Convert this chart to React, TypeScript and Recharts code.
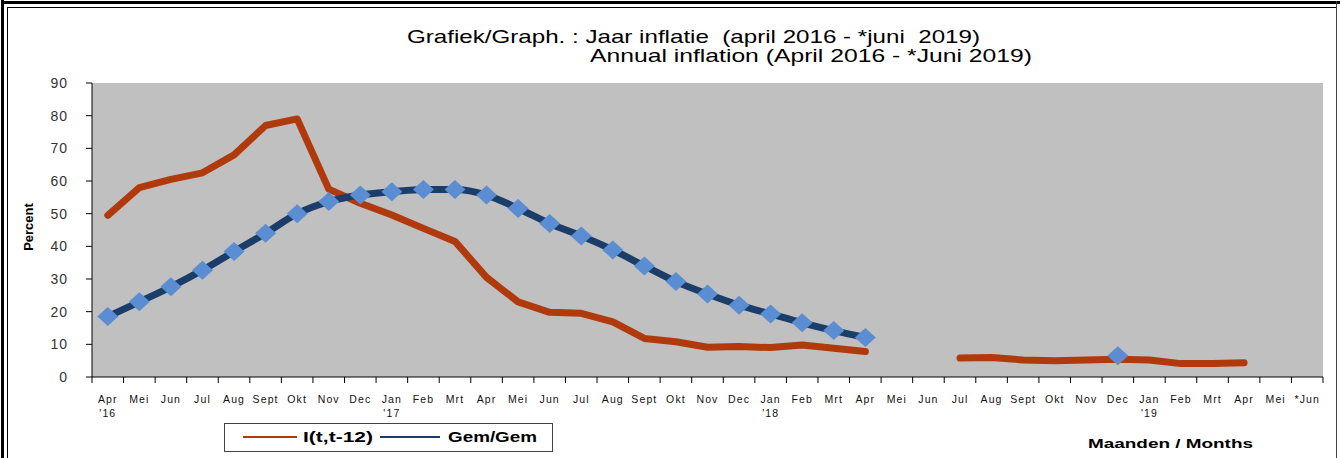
import React from 'react';
import { ComposedChart, Line, XAxis, YAxis, CartesianGrid } from 'recharts';

const months = [
  'Apr', 'Mei', 'Jun', 'Jul', 'Aug', 'Sept', 'Okt', 'Nov', 'Dec',
  'Jan', 'Feb', 'Mrt', 'Apr', 'Mei', 'Jun', 'Jul', 'Aug', 'Sept', 'Okt', 'Nov', 'Dec',
  'Jan', 'Feb', 'Mrt', 'Apr', 'Mei', 'Jun', 'Jul', 'Aug', 'Sept', 'Okt', 'Nov', 'Dec',
  'Jan', 'Feb', 'Mrt', 'Apr', 'Mei', '*Jun',
];

const yearLabels = [
  "'16", '', '', '', '', '', '', '', '',
  "'17", '', '', '', '', '', '', '', '', '', '', '',
  "'18", '', '', '', '', '', '', '', '', '', '', '',
  "'19", '', '', '', '', '',
];

// I(t,t-12): annual inflation, percent
const inflationYoY: (number | null)[] = [
  49.5, 58, 60.5, 62.5, 68, 77, 79, 57.5, 53.2,
  49.6, 45.5, 41.5, 30.5, 23, 19.8, 19.5, 16.9, 11.8, 10.8, 9.1, 9.3,
  9.0, 9.8, 8.8, 7.8, null, null, 5.8, 6.0, 5.2, 5.0, 5.2, 5.4,
  5.2, 4.1, 4.1, 4.4, null, null,
];

// Gem/Gem: 12-month average over 12-month average, percent
const inflationAvg: (number | null)[] = [
  18.5, 23, 27.6, 32.7, 38.4, 44, 50, 53.7, 55.7,
  56.7, 57.4, 57.4, 55.7, 51.6, 47, 43.2, 38.9, 34, 29.2, 25.4, 22,
  19.3, 16.6, 14.2, 12.1, null, null, null, null, null, null, null, 6.5,
  null, null, null, null, null, null,
];

const yTicks = [0, 10, 20, 30, 40, 50, 60, 70, 80, 90];

const data = months.map((m, i) => ({
  idx: i,
  yoy: inflationYoY[i],
  avg: inflationAvg[i],
}));

const W = 1340;
const H = 458;
const X_AXIS_H = 45;
const M = { top: 83, right: 17, left: 32, bottom: 81 - X_AXIS_H };
const Y_AXIS_W = 60;
const PLOT_W = W - M.left - M.right - Y_AXIS_W;
const HALF_BAND = PLOT_W / months.length / 2;

const RED = '#B13A0C';
const NAVY = '#1B3D6A';
const DIAMOND = '#5B8DD3';
const FONT = '"Liberation Sans", Arial, sans-serif';

const MonthTick = (props: any) => {
  const { x, y, payload } = props;
  const i = Number(payload.value);
  const half = HALF_BAND;
  return (
    <g>
      <line x1={x - half} x2={x - half} y1={y} y2={y + 6} stroke="#000" strokeWidth={1} />
      {i === months.length - 1 && (
        <line x1={x + half} x2={x + half} y1={y} y2={y + 6} stroke="#000" strokeWidth={1} />
      )}
      <text x={x} y={y + 26} textAnchor="middle" fontSize={10.5} fill="#111" letterSpacing={1.1} fontFamily={FONT}>
        {months[i]}
      </text>
      {yearLabels[i] && (
        <text x={x} y={y + 40} textAnchor="middle" fontSize={10.5} fill="#111" letterSpacing={1.1} fontFamily={FONT}>
          {yearLabels[i]}
        </text>
      )}
    </g>
  );
};

const ValueTick = (props: any) => {
  const { x, y, payload } = props;
  return (
    <text x={x} y={y} dy={5} textAnchor="end" fontSize={14} fill="#333" letterSpacing={1} fontFamily={FONT}>
      {payload.value}
    </text>
  );
};

const Diamond = (props: any) => {
  const { cx, cy, value } = props;
  if (value === null || value === undefined || cx == null || cy == null) return <g />;
  return (
    <path
      d={`M${cx},${cy - 9.5} L${cx + 10.5},${cy} L${cx},${cy + 9.5} L${cx - 10.5},${cy} Z`}
      fill={DIAMOND}
      stroke="none"
    />
  );
};

export default function App() {
  return (
    <div style={{ position: 'absolute', left: 0, top: 0, width: W, height: H, background: '#fff', fontFamily: FONT }}>
      <ComposedChart width={W} height={H} data={data} margin={M}>
        <CartesianGrid fill="#C0C0C0" fillOpacity={1} horizontal={false} vertical={false} />
        <XAxis
          dataKey="idx"
          type="category"
          interval={0}
          height={X_AXIS_H}
          tickSize={0}
          tickMargin={0}
          tickLine={false}
          padding={{ left: HALF_BAND, right: HALF_BAND }}
          axisLine={{ stroke: '#000', strokeWidth: 1 }}
          tick={<MonthTick />}
        />
        <XAxis
          xAxisId="top"
          dataKey="idx"
          orientation="top"
          height={0}
          tick={false}
          tickLine={false}
          axisLine={{ stroke: '#000', strokeWidth: 1 }}
        />
        <YAxis
          type="number"
          domain={[0, 90]}
          ticks={yTicks}
          width={Y_AXIS_W}
          tickSize={6}
          tickMargin={18}
          axisLine={{ stroke: '#000', strokeWidth: 1 }}
          tickLine={{ stroke: '#000', strokeWidth: 1 }}
          tick={<ValueTick />}
        />
        <YAxis
          yAxisId="right"
          orientation="right"
          domain={[0, 90]}
          width={0}
          tick={false}
          tickLine={false}
          axisLine={{ stroke: '#000', strokeWidth: 1 }}
        />
        <Line
          dataKey="avg"
          stroke="none"
          dot={<Diamond />}
          activeDot={false}
          isAnimationActive={false}
          legendType="none"
        />
        <Line
          dataKey="yoy"
          type="linear"
          stroke={RED}
          strokeWidth={7}
          strokeLinecap="round"
          strokeLinejoin="round"
          dot={false}
          activeDot={false}
          isAnimationActive={false}
        />
        <Line
          dataKey="avg"
          type="monotone"
          stroke={NAVY}
          strokeWidth={7}
          strokeLinecap="round"
          strokeLinejoin="round"
          dot={false}
          activeDot={false}
          isAnimationActive={false}
        />
      </ComposedChart>
      <svg
        width={W}
        height={H}
        style={{ position: 'absolute', left: 0, top: 0, pointerEvents: 'none' }}
      >
        {/* frame */}
        <rect x={1} y={0} width={3} height={H} fill="#000" />
        <rect x={7} y={7} width={1} height={H - 7} fill="#000" />
        <rect x={1} y={1} width={W - 1} height={3} fill="#000" />
        <rect x={7} y={7} width={W - 11} height={1} fill="#000" />
        <rect x={1336} y={1} width={1} height={H} fill="#444" />

        {/* titles */}
        <text x={407} y={43} fontSize={19} fill="#000" textLength={573} lengthAdjust="spacingAndGlyphs" style={{ whiteSpace: 'pre' }}>
          {'Grafiek/Graph. : Jaar inflatie  (april 2016 - *juni  2019)'}
        </text>
        <text x={590} y={62} fontSize={19} fill="#000" textLength={442} lengthAdjust="spacingAndGlyphs" style={{ whiteSpace: 'pre' }}>
          {'Annual inflation (April 2016 - *Juni 2019)'}
        </text>

        {/* y axis title */}
        <text x={0} y={0} transform="translate(33,227) rotate(-90)" textAnchor="middle" fontSize={13} fontWeight="bold" fill="#000">
          Percent
        </text>

        {/* legend */}
        <rect x={224.5} y={423.5} width={328} height={28} fill="#fff" stroke="#444" strokeWidth={1} />
        <line x1={243} x2={297} y1={437} y2={437} stroke={RED} strokeWidth={2} />
        <text x={303} y={442} fontSize={14} fontWeight="bold" fill="#000" textLength={70} lengthAdjust="spacingAndGlyphs">
          I(t,t-12)
        </text>
        <line x1={380} x2={440} y1={437} y2={437} stroke={NAVY} strokeWidth={2} />
        <text x={448} y={442} fontSize={14} fontWeight="bold" fill="#000" textLength={89} lengthAdjust="spacingAndGlyphs">
          Gem/Gem
        </text>

        {/* x axis title */}
        <text x={1088} y={448} fontSize={13} fontWeight="bold" fill="#000" textLength={165} lengthAdjust="spacingAndGlyphs">
          Maanden / Months
        </text>
      </svg>
    </div>
  );
}
